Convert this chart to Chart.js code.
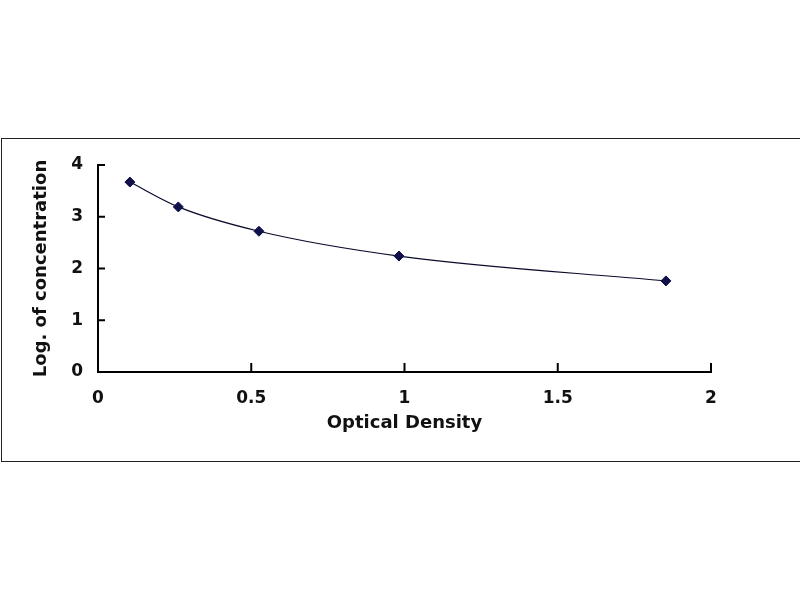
<!DOCTYPE html>
<html>
<head>
<meta charset="utf-8">
<script src="https://cdn.jsdelivr.net/npm/chart.js@4"></script>
<style>
    body { margin: 0; background: #ffffff; }
    #wrap { position: relative; width: 800px; height: 600px; overflow: hidden; }
    #frame { position: absolute; left: 1px; top: 138px; width: 820px; height: 322px; border: 1px solid #222; }
    #myChart { position: absolute; left: 0; top: 0; }
</style>
</head>
<body>
<div id="wrap">
    <div id="frame"></div>
    <canvas id="myChart" width="800" height="600"></canvas>
</div>
<script>
// standard curve readings
let opticalDensity = [0.104, 0.262, 0.525, 0.982, 1.853];
let logConcentration = [3.67, 3.19, 2.72, 2.24, 1.76];
let xTicks = [0, 0.5, 1, 1.5, 2];
let yTicks = [0, 1, 2, 3, 4];

let points = opticalDensity.map((od, i) => ({ x: od, y: logConcentration[i] }));

// small tick marks drawn inside the plot, like the old spreadsheet chart
let insideTicks = {
    id: 'insideTicks',
    afterDraw(chart) {
        let ctx = chart.ctx;
        let xs = chart.scales.x;
        let ys = chart.scales.y;
        ctx.save();
        ctx.strokeStyle = '#000000';
        ctx.lineWidth = 2;
        ctx.beginPath();
        yTicks.forEach(v => {
            let py = ys.getPixelForValue(v);
            ctx.moveTo(xs.left, py);
            ctx.lineTo(xs.left + 7, py);
        });
        xTicks.forEach(v => {
            let px = xs.getPixelForValue(v);
            ctx.moveTo(px, ys.bottom);
            ctx.lineTo(px, ys.bottom - 9);
        });
        ctx.stroke();
        ctx.restore();
    }
};

let tickFont = { family: 'DejaVu Sans', size: 17, weight: 'bold' };
let titleFont = { family: 'DejaVu Sans', size: 18, weight: 'bold' };

let myChart = document.getElementById('myChart').getContext('2d');
let chart = new Chart(myChart, {
    type: 'scatter',
    data: {
        datasets: [
            {
                data: points,
                showLine: true,
                cubicInterpolationMode: 'monotone',
                borderColor: '#0a0a2a',
                borderWidth: 1.2,
                pointStyle: 'rectRot',
                pointRadius: 5,
                pointBackgroundColor: '#10104a',
                pointBorderColor: '#10104a',
                pointBorderWidth: 1
            }
        ]
    },
    options: {
        responsive: false,
        animation: false,
        layout: {
            padding: { left: 0, right: 89, top: 165, bottom: 158 }
        },
        plugins: {
            legend: { display: false },
            tooltip: { enabled: false }
        },
        scales: {
            x: {
                type: 'linear',
                min: 0,
                max: 2,
                afterBuildTicks: (scale) => { scale.ticks = xTicks.map(v => ({ value: v })); },
                grid: { display: false, drawTicks: false },
                border: { display: true, color: '#000000', width: 2 },
                ticks: {
                    padding: 16,
                    color: '#111111',
                    font: tickFont,
                    callback: (v) => String(v)
                },
                title: {
                    display: true,
                    text: 'Optical Density',
                    color: '#111111',
                    padding: { top: 4, bottom: 8 },
                    font: titleFont
                },
                afterFit: (scale) => { scale.height = 70; }
            },
            y: {
                type: 'linear',
                min: 0,
                max: 4,
                afterBuildTicks: (scale) => { scale.ticks = yTicks.map(v => ({ value: v })); },
                grid: { display: false, drawTicks: false },
                border: { display: true, color: '#000000', width: 2 },
                ticks: {
                    padding: 15,
                    color: '#111111',
                    font: tickFont,
                    callback: (v) => String(v)
                },
                title: {
                    display: true,
                    text: 'Log. of concentration',
                    color: '#111111',
                    padding: { top: 31, bottom: 0 },
                    font: titleFont
                },
                afterFit: (scale) => { scale.width = 98; }
            }
        }
    },
    plugins: [insideTicks]
});
</script>
</body>
</html>
